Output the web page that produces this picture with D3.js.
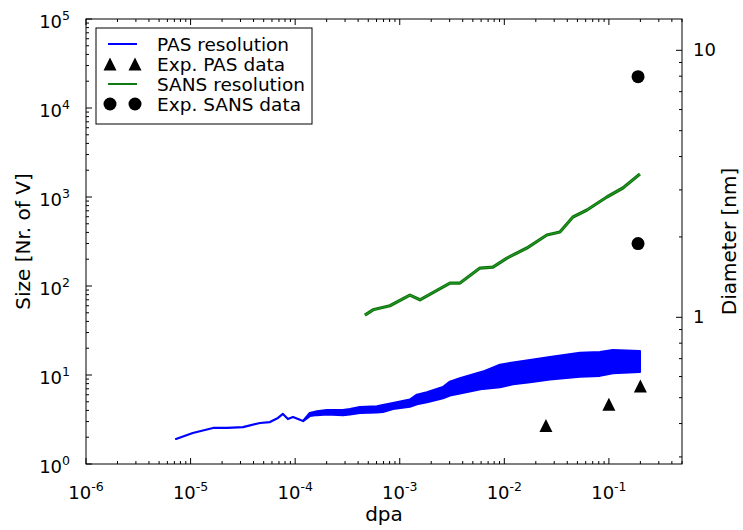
<!DOCTYPE html>
<html>
<head>
<meta charset="utf-8">
<script src="https://cdn.jsdelivr.net/npm/d3@7"></script>
<style>
  body { margin: 0; background: #fff; }
  text { font-family: "DejaVu Sans", sans-serif; fill: #000; }
</style>
</head>
<body>
<div id="chart"></div>
<script>
// tick exponents / labels
var xTickExps = [-6, -5, -4, -3, -2, -1];
var yTickExps = [0, 1, 2, 3, 4, 5];
var diamTicks = [1, 10];
var diamTickLabels = ["1", "10"];

// PAS resolution (band: upper and lower envelope)
var pasDpa   = [7.25e-6, 1.05e-5, 1.64e-5, 2.23e-5, 3.17e-5, 4.61e-5, 5.74e-5, 6.85e-5, 7.64e-5, 8.53e-5, 9.53e-5, 1.19e-4,
                1.38e-4, 1.62e-4, 2.01e-4, 2.86e-4, 3.34e-4, 4.16e-4, 6.05e-4, 6.90e-4, 8.61e-4, 1.25e-3, 1.46e-3, 1.82e-3,
                2.59e-3, 3.02e-3, 3.76e-3, 6.24e-3, 9.08e-3, 0.0121, 0.0176, 0.0273, 0.0528, 0.082, 0.109, 0.198];
var pasUpper = [1.91, 2.23, 2.54, 2.54, 2.60, 2.89, 2.96, 3.29, 3.65, 3.20, 3.37, 3.04,
                3.74, 3.90, 4.04, 4.04, 4.15, 4.37, 4.45, 4.60, 4.85, 5.30, 6.00, 6.40,
                7.30, 8.40, 9.20, 10.9, 13.0, 13.8, 14.7, 15.9, 17.7, 18.1, 19.1, 18.6];
var pasLower = [1.91, 2.23, 2.54, 2.54, 2.60, 2.89, 2.96, 3.29, 3.65, 3.20, 3.37, 3.04,
                3.46, 3.55, 3.60, 3.55, 3.60, 3.74, 3.80, 3.85, 4.15, 4.40, 4.70, 4.95,
                5.50, 5.90, 6.20, 7.00, 7.30, 7.90, 8.30, 8.90, 9.60, 9.80, 10.5, 10.8];

// SANS resolution
var sansDpa  = [4.64e-4, 5.55e-4, 8.05e-4, 1.25e-3, 1.56e-3, 3.02e-3, 3.77e-3, 5.85e-3, 7.78e-3, 0.0106,
                0.0164, 0.0255, 0.034, 0.0453, 0.0617, 0.0957, 0.136, 0.198];
var sansSize = [47, 54, 60, 79, 70, 108, 108, 159, 163, 206,
                267, 374, 404, 596, 714, 1000, 1262, 1810];

// experimental points
var expPasDpa = [0.025, 0.1, 0.2];
var expPasSize = [2.7, 4.7, 7.5];
var expSansDpa = [0.19, 0.19];
var expSansSize = [22500, 300];

var legendLabels = ["PAS resolution", "Exp. PAS data", "SANS resolution", "Exp. SANS data"];

var width = 743, height = 530;
var margin = {top: 19, right: 61, bottom: 66, left: 86};
var w = width - margin.left - margin.right;
var h = height - margin.top - margin.bottom;

var svg = d3.select("#chart").append("svg")
    .attr("width", width)
    .attr("height", height);

var g = svg.append("g")
    .attr("transform", "translate(" + margin.left + "," + margin.top + ")");

var x = d3.scaleLog().domain([1e-6, 0.5]).range([0, w]);
var y = d3.scaleLog().domain([1, 1e5]).range([h, 0]);

// diameter of a spherical cluster of N vacancies in bcc Fe (atomic volume in nm^3)
var atomicVolume = 0.01177;
function diameter(n) { return Math.cbrt(n * atomicVolume * 6 / Math.PI); }
var y2 = d3.scaleLog().domain([diameter(1), diameter(1e5)]).range([h, 0]);

g.append("clipPath").attr("id", "clip")
    .append("rect").attr("width", w).attr("height", h);

function minors(scale) {
    var d = scale.domain(), out = [];
    var lo = Math.floor(Math.log10(d[0])), hi = Math.ceil(Math.log10(d[1]));
    for (var e = lo; e <= hi; e++) {
        for (var k = 2; k <= 9; k++) {
            var v = k * Math.pow(10, e);
            if (v >= d[0] && v <= d[1]) out.push(v);
        }
    }
    return out;
}

var ticks = g.append("g").attr("stroke", "#000").attr("stroke-width", 1);

// x ticks (bottom and top, inside)
xTickExps.forEach(function(e) {
    var px = x(Math.pow(10, e));
    ticks.append("line").attr("x1", px).attr("x2", px).attr("y1", h).attr("y2", h - 6);
    ticks.append("line").attr("x1", px).attr("x2", px).attr("y1", 0).attr("y2", 6);
});
minors(x).forEach(function(v) {
    var px = x(v);
    ticks.append("line").attr("x1", px).attr("x2", px).attr("y1", h).attr("y2", h - 3);
    ticks.append("line").attr("x1", px).attr("x2", px).attr("y1", 0).attr("y2", 3);
});
// left y ticks
yTickExps.forEach(function(e) {
    var py = y(Math.pow(10, e));
    ticks.append("line").attr("x1", 0).attr("x2", 6).attr("y1", py).attr("y2", py);
});
minors(y).forEach(function(v) {
    var py = y(v);
    ticks.append("line").attr("x1", 0).attr("x2", 3).attr("y1", py).attr("y2", py);
});
// right diameter ticks
diamTicks.forEach(function(v) {
    var py = y2(v);
    ticks.append("line").attr("x1", w).attr("x2", w - 6).attr("y1", py).attr("y2", py);
});
minors(y2).forEach(function(v) {
    var py = y2(v);
    ticks.append("line").attr("x1", w).attr("x2", w - 3).attr("y1", py).attr("y2", py);
});

// data
var plot = g.append("g").attr("clip-path", "url(#clip)");

var pasData = pasDpa.map(function(d, i) { return {x: d, hi: pasUpper[i], lo: pasLower[i]}; });
var band = d3.area()
    .x(function(d) { return x(d.x); })
    .y0(function(d) { return y(d.lo); })
    .y1(function(d) { return y(d.hi); });
plot.append("path")
    .datum(pasData)
    .attr("d", band)
    .attr("fill", "#0000ff")
    .attr("stroke", "#0000ff")
    .attr("stroke-width", 2.2)
    .attr("stroke-linejoin", "round");

var sansData = sansDpa.map(function(d, i) { return {x: d, y: sansSize[i]}; });
var line = d3.line()
    .x(function(d) { return x(d.x); })
    .y(function(d) { return y(d.y); });
plot.append("path")
    .datum(sansData)
    .attr("d", line)
    .attr("fill", "none")
    .attr("stroke", "#0f6f0f")
    .attr("stroke-width", 3.2)
    .attr("stroke-linejoin", "round");
plot.append("path")
    .datum(sansData)
    .attr("d", line)
    .attr("fill", "none")
    .attr("stroke", "#1f9a1f")
    .attr("stroke-width", 1.2)
    .attr("stroke-linejoin", "round");

var tri = "M0,-6.5L6.5,6.5L-6.5,6.5Z";
expPasDpa.forEach(function(d, i) {
    plot.append("path")
        .attr("d", tri)
        .attr("transform", "translate(" + x(d) + "," + y(expPasSize[i]) + ")")
        .attr("fill", "#000");
});
expSansDpa.forEach(function(d, i) {
    plot.append("circle")
        .attr("cx", x(d)).attr("cy", y(expSansSize[i]))
        .attr("r", 6.5).attr("fill", "#000");
});

// frame
g.append("rect")
    .attr("width", w).attr("height", h)
    .attr("fill", "none").attr("stroke", "#000").attr("stroke-width", 1);

// tick labels
function powLabel(sel, e) {
    sel.append("tspan").text("10");
    sel.append("tspan").attr("dy", -8).attr("font-size", 12.5).text(e);
}
xTickExps.forEach(function(e) {
    var t = g.append("text")
        .attr("x", x(Math.pow(10, e)))
        .attr("y", h + 35)
        .attr("text-anchor", "middle")
        .attr("font-size", 18);
    powLabel(t, e);
});
yTickExps.forEach(function(e) {
    var t = g.append("text")
        .attr("x", -16)
        .attr("y", y(Math.pow(10, e)) + 9)
        .attr("text-anchor", "end")
        .attr("font-size", 18);
    powLabel(t, e);
});
diamTicks.forEach(function(v, i) {
    g.append("text")
        .attr("x", w + 11)
        .attr("y", y2(v) + 6)
        .attr("font-size", 18)
        .text(diamTickLabels[i]);
});

// axis titles
g.append("text")
    .attr("x", w / 2).attr("y", h + 57)
    .attr("text-anchor", "middle")
    .attr("font-size", 20)
    .text("dpa");
g.append("text")
    .attr("transform", "translate(" + (-56) + "," + (h / 2) + ") rotate(-90)")
    .attr("text-anchor", "middle")
    .attr("font-size", 20)
    .text("Size [Nr. of V]");
g.append("text")
    .attr("transform", "translate(" + (w + 54) + "," + (h / 2) + ") rotate(-90)")
    .attr("text-anchor", "middle")
    .attr("font-size", 20)
    .text("Diameter [nm]");

// legend
var legend = g.append("g").attr("transform", "translate(10,9)");
legend.append("rect")
    .attr("width", 216).attr("height", 96)
    .attr("fill", "#fff").attr("stroke", "#000").attr("stroke-width", 1);

var rows = legend.selectAll(".row")
    .data(legendLabels)
    .enter().append("g")
    .attr("class", "row")
    .attr("transform", function(d, i) { return "translate(0," + (16 + i * 20) + ")"; });

rows.append("text")
    .attr("x", 61).attr("y", 6.5)
    .attr("font-size", 18.5)
    .text(function(d) { return d; });

rows.each(function(d, i) {
    var r = d3.select(this);
    if (i === 0 || i === 2) {
        r.append("line")
            .attr("x1", 12).attr("x2", 41).attr("y1", 0).attr("y2", 0)
            .attr("stroke", i === 0 ? "#0000ff" : "#127a12")
            .attr("stroke-width", 2);
    } else if (i === 1) {
        [14, 39].forEach(function(cx) {
            r.append("path").attr("d", tri)
                .attr("transform", "translate(" + cx + ",0)")
                .attr("fill", "#000");
        });
    } else {
        [14, 39].forEach(function(cx) {
            r.append("circle").attr("cx", cx).attr("cy", 0).attr("r", 6.5).attr("fill", "#000");
        });
    }
});
</script>
</body>
</html>
